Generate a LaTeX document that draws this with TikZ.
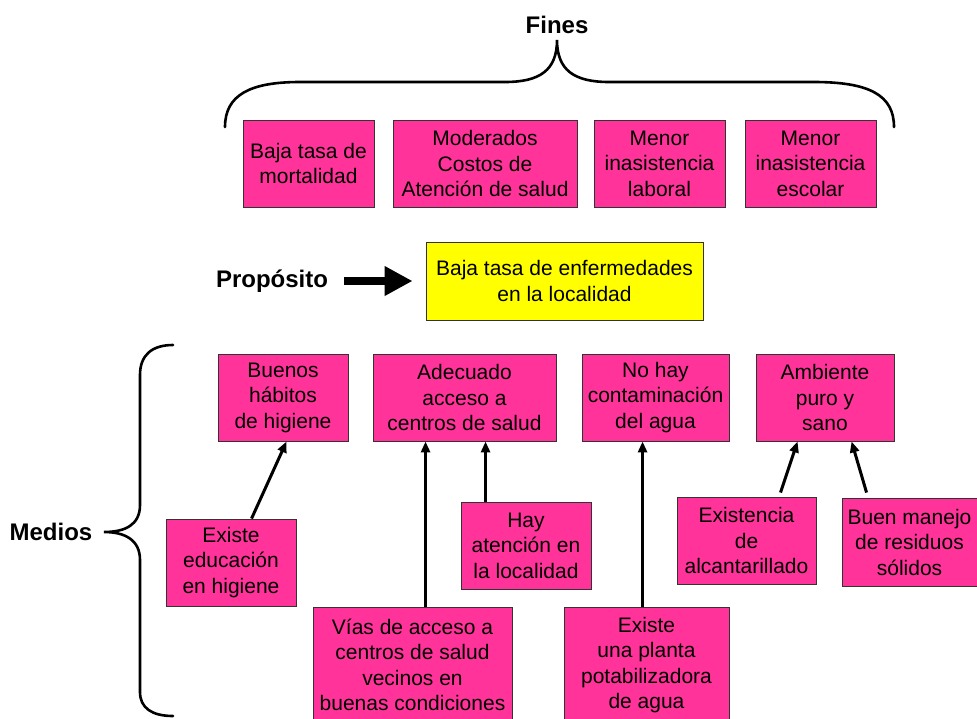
\documentclass[tikz,border=0pt]{standalone}
\usepackage{fontspec}
\setmainfont{Liberation Sans}
\usetikzlibrary{arrows.meta,calc}
\definecolor{boxpink}{HTML}{FF3399}
\definecolor{boxyellow}{HTML}{FFFF00}
\definecolor{boxline}{HTML}{333333}
\tikzset{
  card/.style={draw=boxline, line width=0.9pt, fill=boxpink, inner sep=0pt,
    align=center, font=\fontsize{21}{25.5}\selectfont},
  goalcard/.style={card, fill=boxyellow},
  heading/.style={inner sep=0pt, font=\fontsize{24}{28}\selectfont\bfseries},
  bracket/.style={line width=2.6pt, line cap=round},
  link/.style={line width=3pt, -{Triangle[length=11pt,width=9pt]}},
}
\begin{document}
\begin{tikzpicture}[x=1pt, y=-1pt]
\path[use as bounding box] (0,0) rectangle (977,718);

% Fines
\node[heading] (fines) at (557,25) {Fines};
\draw[bracket] (225,127) .. controls (225,95) and (250,82) .. (300,82) -- (505,82)
  .. controls (540,82) and (557,70) .. (557,40)
  .. controls (557,70) and (574,82) .. (609,82) -- (814,82)
  .. controls (869,82) and (894,95) .. (894,127);

\node[card, minimum width=131pt, minimum height=87pt] (f1) at (308.5,163.5) {Baja tasa de\\mortalidad};
\node[card, minimum width=184pt, minimum height=87pt] (f2) at (485,163.5) {Moderados\\Costos de\\Atención de salud};
\node[card, minimum width=131pt, minimum height=87pt] (f3) at (659.5,163.5) {Menor\\inasistencia\\laboral};
\node[card, minimum width=131pt, minimum height=87pt] (f4) at (810.5,163.5) {Menor\\inasistencia\\escolar};

% Propósito
\node[heading] (prop) at (272,281) {Propósito};
\node[goalcard, minimum width=277pt, minimum height=78pt] (goal) at (564.5,281) {Baja tasa de enfermedades\\en la localidad};
\draw[line width=8pt, -{Triangle[length=28pt,width=28pt]}, shorten <=16pt, shorten >=13pt] (prop.east) -- (goal.west);

% Medios
\node[heading] (medios) at (51,532) {Medios};
\draw[bracket] (173,345) .. controls (152,345) and (140,355) .. (140,375) -- (140,505)
  .. controls (140,525) and (125,532) .. (104,532)
  .. controls (125,532) and (140,540) .. (140,560) -- (140,692)
  .. controls (140,708) and (152,716) .. (173,716);

\node[card, minimum width=130pt, minimum height=87pt] (m1) at (283,397.5) {Buenos\\hábitos\\de higiene};
\node[card, minimum width=183pt, minimum height=87pt] (m2) at (464.5,397.5) {Adecuado\\acceso a\\centros de salud};
\node[card, minimum width=147pt, minimum height=87pt] (m3) at (655.5,397.5) {No hay\\contaminación\\del agua};
\node[card, minimum width=138pt, minimum height=87pt] (m4) at (825,397.5) {Ambiente\\puro y\\sano};

\node[card, minimum width=130pt, minimum height=87pt] (e1) at (231,562.5) {Existe\\educación\\en higiene};
\node[card, minimum width=130pt, minimum height=87pt] (h1) at (526,545.5) {Hay\\atención en\\la localidad};
\node[card, minimum width=199pt, minimum height=116pt] (v1) at (412.5,665) {Vías de acceso a\\centros de salud\\vecinos en\\buenas condiciones};
\node[card, minimum width=165pt, minimum height=116pt] (p1) at (646.5,665) {Existe\\una planta\\potabilizadora\\de agua};
\node[card, minimum width=139pt, minimum height=87pt] (a1) at (746.5,540.5) {Existencia\\de\\alcantarillado};
\node[card, minimum width=135pt, minimum height=88pt] (b1) at (909.5,542) {Buen manejo\\de residuos\\sólidos};

% causal links
\draw[link] ($(e1.north west)+(86,0)$) -- ($(m1.south west)+(69,0)$);
\draw[link] ($(v1.north west)+(113,0)$) -- ($(m2.south west)+(53,0)$);
\draw[link] ($(h1.north west)+(25,0)$) -- ($(m2.south west)+(113,0)$);
\draw[link] ($(p1.north west)+(79,0)$) -- ($(m3.south west)+(61,0)$);
\draw[link] ($(a1.north west)+(104,-4)$) -- ($(m4.south west)+(42,0)$);
\draw[link] ($(b1.north west)+(25,-5)$) -- ($(m4.south west)+(96,0)$);
\end{tikzpicture}
\end{document}
